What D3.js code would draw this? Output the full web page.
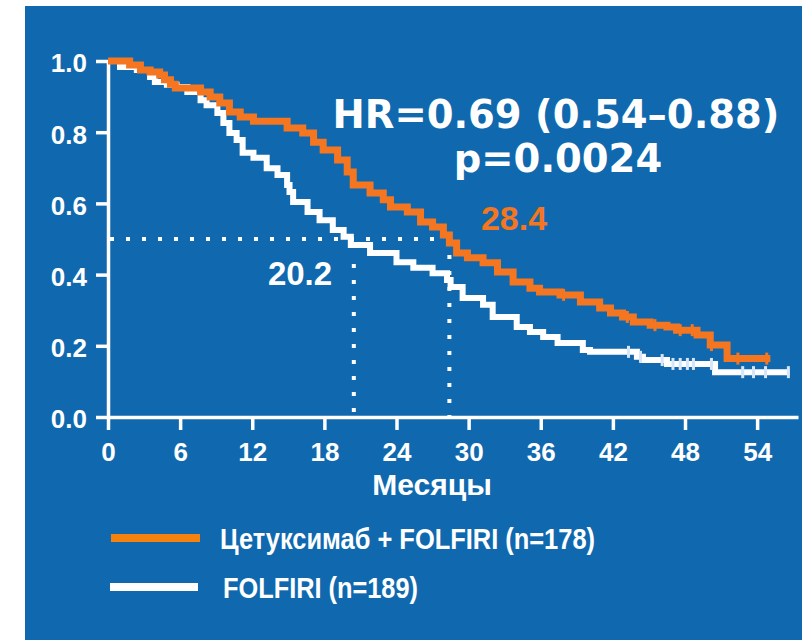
<!DOCTYPE html>
<meta charset="utf-8">
<script src="https://d3js.org/d3.v7.min.js"></script>
<style>
  body { margin: 0; background: #fff; }
  svg { display: block; }
</style>
<body>
<div id="chart"></div>
<script>
  // tick values
  var monthTicks = [0, 6, 12, 18, 24, 30, 36, 42, 48, 54];
  var survTicks = [0, 0.2, 0.4, 0.6, 0.8, 1.0];

  // Cetuximab + FOLFIRI  (time in months, survival after the step)
  var cetuxTime = [0, 1.8, 2.7, 3.5, 4.3, 4.7, 5.2, 5.6, 7.7, 8.5, 9.3, 10.1, 11.0, 12.1, 14.9, 16.2, 17.1, 17.9, 19.1, 19.9, 20.4, 21.8, 22.9, 23.5, 24.9, 26.0, 27.0, 27.9, 28.4, 29.0, 29.9, 31.2, 32.4, 33.7, 35.1, 35.9, 37.6, 39.3, 40.9, 41.8, 42.8, 43.7, 45.1, 46.5, 47.3, 49.0, 50.1, 51.5, 55.1];
  var cetuxSurv = [1.0, 0.989, 0.975, 0.969, 0.961, 0.947, 0.935, 0.924, 0.913, 0.899, 0.882, 0.857, 0.843, 0.831, 0.812, 0.798, 0.772, 0.750, 0.722, 0.688, 0.652, 0.629, 0.610, 0.590, 0.576, 0.548, 0.534, 0.511, 0.489, 0.461, 0.447, 0.433, 0.407, 0.379, 0.362, 0.351, 0.343, 0.323, 0.306, 0.292, 0.281, 0.267, 0.258, 0.253, 0.244, 0.230, 0.202, 0.164, 0.164];
  var cetuxCensor = [37.9, 43.2, 45.5, 47.6, 48.6, 50.2, 52.4, 54.8];

  // FOLFIRI
  var folfiriTime = [0, 1.0, 2.4, 3.5, 3.9, 4.9, 5.7, 6.6, 7.7, 8.2, 9.1, 9.6, 10.1, 10.7, 11.2, 12.1, 13.2, 14.1, 14.9, 15.1, 15.4, 16.6, 17.6, 18.7, 19.6, 20.2, 21.8, 24.0, 25.4, 27.0, 28.2, 28.5, 29.5, 31.2, 32.0, 34.0, 35.1, 36.2, 37.4, 39.5, 40.1, 44.0, 44.5, 46.5, 50.5, 56.7];
  var folfiriSurv = [1.0, 0.983, 0.975, 0.955, 0.941, 0.933, 0.927, 0.913, 0.890, 0.876, 0.854, 0.826, 0.798, 0.778, 0.742, 0.728, 0.699, 0.680, 0.652, 0.632, 0.604, 0.576, 0.553, 0.525, 0.506, 0.483, 0.461, 0.435, 0.419, 0.404, 0.385, 0.365, 0.334, 0.315, 0.281, 0.253, 0.239, 0.225, 0.208, 0.188, 0.183, 0.169, 0.160, 0.149, 0.126, 0.126];
  var folfiriCensor = [43.3, 44.3, 46.1, 47.0, 47.6, 48.2, 48.7, 50.2, 52.8, 53.7, 54.7, 56.6];

  var medians = [20.2, 28.4];
  var hrText = "HR=0.69 (0.54\u20130.88)";
  var pText = "p=0.0024";
  var legendLabels = ["Цетуксимаб + FOLFIRI (n=178)", "FOLFIRI (n=189)"];

  var blue = "#1069ae", orange = "#f47621", legOrange = "#f5820c";
  var W = 802, H = 640;

  var svg = d3.select("#chart").append("svg")
    .attr("width", W).attr("height", H);

  svg.append("rect")
    .attr("x", 25).attr("y", 6)
    .attr("width", W - 25).attr("height", H - 6)
    .attr("fill", blue);

  var x = d3.scaleLinear().domain([0, 57.4]).range([108, 798]);
  var y = d3.scaleLinear().domain([0, 1]).range([417, 61]);

  // axes
  var xAxis = svg.append("g")
    .attr("transform", "translate(0," + y(0) + ")")
    .call(d3.axisBottom(x).tickValues(monthTicks).tickSize(13).tickPadding(13).tickSizeOuter(0));
  var yAxis = svg.append("g")
    .attr("transform", "translate(" + x(0) + ",0)")
    .call(d3.axisLeft(y).tickValues(survTicks).tickSize(12).tickPadding(9).tickSizeOuter(0)
      .tickFormat(d3.format(".1f")));

  [xAxis, yAxis].forEach(function(a) {
    a.selectAll("path, line").attr("stroke", "#fff").attr("stroke-width", 3.5);
    a.selectAll("text")
      .attr("fill", "#fff")
      .style("font-family", "'Liberation Sans', Arial, sans-serif")
      .style("font-weight", "bold")
      .style("font-size", "26px");
  });
  yAxis.selectAll("text").attr("dy", "0.42em");

  svg.append("text")
    .attr("x", 432).attr("y", 495)
    .attr("text-anchor", "middle")
    .attr("fill", "#fff")
    .style("font-family", "'Liberation Sans', Arial, sans-serif")
    .style("font-weight", "bold")
    .style("font-size", "30px")
    .text("Месяцы");

  // median guides
  var dots = svg.append("g")
    .attr("stroke", "#fff").attr("stroke-width", 4)
    .attr("stroke-dasharray", "4,12").attr("fill", "none");
  dots.append("line")
    .attr("x1", x(0) + 2).attr("x2", x(medians[1]))
    .attr("y1", y(0.5)).attr("y2", y(0));
  dots.select("line").attr("y2", y(0.5));
  dots.append("line")
    .attr("x1", x(medians[0]) + 3).attr("x2", x(medians[0]) + 3)
    .attr("y1", y(0.43)).attr("y2", y(0));
  dots.append("line")
    .attr("x1", x(medians[1])).attr("x2", x(medians[1]))
    .attr("y1", y(0.5)).attr("y2", y(0));

  // step curves
  var line = d3.line()
    .x(function(d) { return x(d[0]); })
    .y(function(d) { return y(d[1]); })
    .curve(d3.curveStepAfter);

  function survAt(times, surv, t) {
    var s = surv[0];
    for (var i = 0; i < times.length; i++) { if (times[i] <= t) s = surv[i]; }
    return s;
  }

  function drawCurve(times, surv, censor, color, width, tickColor) {
    var pts = d3.zip(times, surv);
    svg.append("path")
      .datum(pts)
      .attr("d", line)
      .attr("fill", "none")
      .attr("stroke", color)
      .attr("stroke-width", width);
    svg.append("g").selectAll("line")
      .data(censor)
      .enter().append("line")
      .attr("x1", function(d) { return x(d); })
      .attr("x2", function(d) { return x(d); })
      .attr("y1", function(d) { return y(survAt(times, surv, d)) - 6; })
      .attr("y2", function(d) { return y(survAt(times, surv, d)) + 6; })
      .attr("stroke", tickColor)
      .attr("stroke-width", 3);
  }

  drawCurve(folfiriTime, folfiriSurv, folfiriCensor, "#fff", 6, "#d6e5f7");
  drawCurve(cetuxTime, cetuxSurv, cetuxCensor, orange, 7, orange);

  // annotations
  var hr = svg.append("g")
    .attr("fill", "#fff")
    .style("font-family", "'DejaVu Sans', Verdana, sans-serif")
    .style("font-weight", "bold")
    .style("font-size", "38.5px")
    .attr("text-anchor", "middle");
  hr.append("text").attr("x", 556).attr("y", 128).text(hrText);
  hr.append("text").attr("x", 558).attr("y", 172).text(pText);

  svg.append("text")
    .attr("x", 514).attr("y", 230)
    .attr("text-anchor", "middle")
    .attr("fill", orange)
    .style("font-family", "'Liberation Sans', Arial, sans-serif")
    .style("font-weight", "bold")
    .style("font-size", "34px")
    .text(medians[1].toFixed(1));
  svg.append("text")
    .attr("x", 300).attr("y", 285)
    .attr("text-anchor", "middle")
    .attr("fill", "#fff")
    .style("font-family", "'Liberation Sans', Arial, sans-serif")
    .style("font-weight", "bold")
    .style("font-size", "33px")
    .text(medians[0].toFixed(1));

  // legend
  var legColors = [legOrange, "#fff"];
  var legLengths = [375, 195];
  var leg = svg.append("g");
  legendLabels.forEach(function(lbl, i) {
    var ly = 538 + i * 49;
    leg.append("line")
      .attr("x1", 111 - i).attr("x2", 200 - 2 * i)
      .attr("y1", ly).attr("y2", ly)
      .attr("stroke", legColors[i]).attr("stroke-width", 8);
    leg.append("text")
      .attr("x", 220 + 3 * i).attr("y", ly + 11)
      .attr("fill", "#fff")
      .attr("textLength", legLengths[i])
      .attr("lengthAdjust", "spacingAndGlyphs")
      .style("font-family", "'Liberation Sans', Arial, sans-serif")
      .style("font-weight", "bold")
      .style("font-size", "29px")
      .text(lbl);
  });
</script>
</body>
